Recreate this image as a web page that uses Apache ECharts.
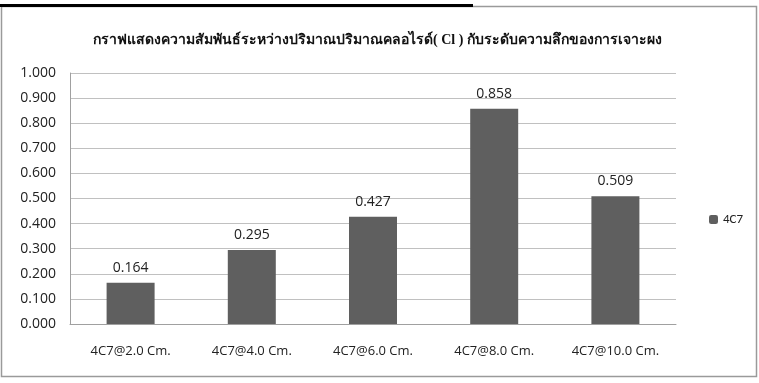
<!DOCTYPE html>
<html><head><meta charset="utf-8">
<script src="https://cdn.jsdelivr.net/npm/echarts@6/dist/echarts.min.js"></script>
<style>html,body{margin:0;padding:0;background:#fff}#c{width:759px;height:383px}</style>
</head><body><div id="c"></div>
<script>
const titleText = 'กราฟแสดงความสัมพันธ์ระหว่างปริมาณปริมาณคลอไรด์( Cl ) กับระดับความลึกของการเจาะผง';
const categories = ['4C7@2.0 Cm.', '4C7@4.0 Cm.', '4C7@6.0 Cm.', '4C7@8.0 Cm.', '4C7@10.0 Cm.'];
const seriesName = '4C7';
const values = [0.164, 0.295, 0.427, 0.858, 0.509];
const yTicks = {min: 0, max: 1, interval: 0.1};

const chart = echarts.init(document.getElementById('c'));
chart.setOption({
  animation: false,
  backgroundColor: '#fff',
  title: {
    text: titleText, left: 88, top: 28,
    textStyle: {fontFamily: 'serif', fontWeight: 'bold', fontSize: 14, color: '#111'}
  },
  legend: {
    data: [seriesName], left: 704, top: 208, orient: 'vertical',
    itemWidth: 9, itemHeight: 9, itemGap: 4,
    textStyle: {fontFamily: 'Calibri, Carlito, "Open Sans", sans-serif', fontSize: 13, color: '#222'}
  },
  grid: {left: 70, right: 83, top: 73, bottom: 59},
  xAxis: {
    type: 'category', data: categories,
    axisLine: {lineStyle: {color: '#a0a0a0'}},
    axisTick: {show: false},
    axisLabel: {margin: 21, fontFamily: '"Liberation Sans Narrow", "Open Sans", sans-serif', fontSize: 13, color: '#222'}
  },
  yAxis: {
    type: 'value', min: yTicks.min, max: yTicks.max, interval: yTicks.interval,
    axisLine: {show: true, lineStyle: {color: '#a0a0a0'}},
    axisTick: {show: false},
    splitLine: {lineStyle: {color: '#c0c0c0'}},
    axisLabel: {margin: 14, fontFamily: '"Open Sans", sans-serif', fontSize: 14, color: '#222',
      formatter: v => v.toFixed(3)}
  },
  series: [{
    name: seriesName, type: 'bar', data: values, barWidth: 48,
    itemStyle: {color: '#5f5f5f'},
    label: {show: true, position: 'top', distance: 8, formatter: p => p.value.toFixed(3),
      fontFamily: '"Open Sans", sans-serif', fontSize: 14, color: '#222'}
  }],
  graphic: [
    {type: 'rect', shape: {x: 1.5, y: 6.5, width: 755, height: 370}, style: {fill: 'none', stroke: '#9a9a9a', lineWidth: 1.5}},
    {type: 'rect', shape: {x: 0, y: 4, width: 473, height: 3}, style: {fill: '#000'}}
  ]
});
</script></body></html>
